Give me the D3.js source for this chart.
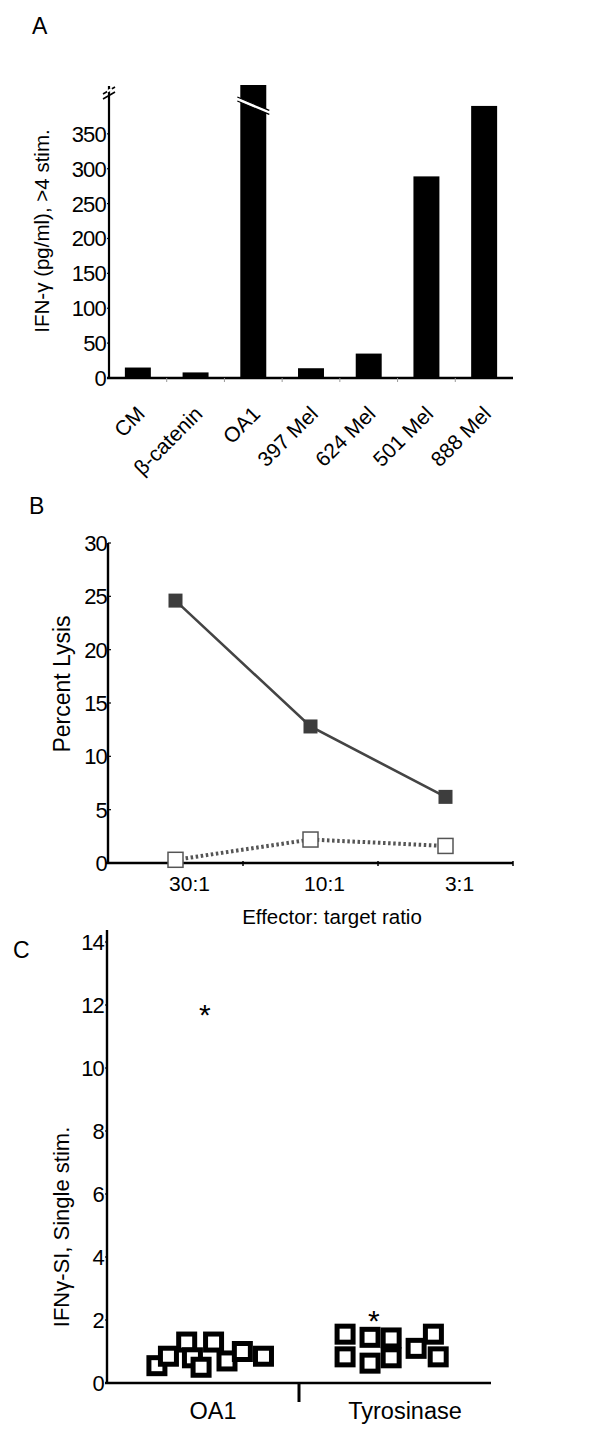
<!DOCTYPE html>
<html>
<head>
<meta charset="utf-8">
<script src="https://cdn.jsdelivr.net/npm/d3@7"></script>
<style>
  html, body { margin: 0; padding: 0; background: #fff; }
  svg { display: block; font-family: "Liberation Sans", Arial, sans-serif; }
</style>
</head>
<body>
<script>
// ---------- Panel A data ----------
const catsA = ["CM", "β-catenin", "OA1", "397 Mel", "624 Mel", "501 Mel", "888 Mel"];
const valsA = [15, 8, 420, 14, 35, 289, 390];   // OA1 is off-scale (axis break)
const ticksA = [0, 50, 100, 150, 200, 250, 300, 350];

// ---------- Panel B data ----------
const ratiosB = ["30:1", "10:1", "3:1"];
const lysisOA1 = [24.6, 12.8, 6.2];
const lysisCtrl = [0.3, 2.2, 1.6];
const ticksB = [0, 5, 10, 15, 20, 25, 30];

// ---------- Panel C data ----------
const groupsC = ["OA1", "Tyrosinase"];
const oa1SI = [0.55, 0.85, 1.3, 0.8, 0.5, 1.3, 0.7, 1.0, 0.85];
const oa1Jit = [-0.48, -0.36, -0.17, -0.11, -0.02, 0.11, 0.25, 0.41, 0.63];
const tyrSI = [1.55, 0.83, 1.45, 0.63, 1.43, 0.8, 1.1, 1.55, 0.83];
const tyrJit = [-0.52, -0.52, -0.26, -0.26, -0.04, -0.04, 0.22, 0.4, 0.45];
const starGroup = ["OA1", "Tyrosinase"];
const starSI = [11.8, 2.1];
const starJit = [0.02, -0.22];
const ticksC = [0, 2, 4, 6, 8, 10, 12, 14];

const W = 609, H = 1432;
const svg = d3.select("body").append("svg").attr("width", W).attr("height", H);

function panelLabel(t, x, y) {
  svg.append("text").attr("x", x).attr("y", y).attr("font-size", 23).text(t);
}
function yTickLabels(g, scale, ticks, xEnd) {
  g.selectAll("text.tl").data(ticks).join("text")
    .attr("class", "tl")
    .attr("x", xEnd).attr("y", d => scale(d))
    .attr("dy", "0.36em").attr("text-anchor", "end")
    .attr("font-size", 22).attr("letter-spacing", -0.8).text(d => d);
  g.selectAll("line.tm").data(ticks).join("line")
    .attr("class", "tm")
    .attr("x1", xEnd + 1).attr("x2", xEnd + 4)
    .attr("y1", d => scale(d)).attr("y2", d => scale(d))
    .attr("stroke", "#000").attr("stroke-width", 1.2);
}

// =================== Panel A ===================
panelLabel("A", 32, 34);
const gA = svg.append("g");
const xA = d3.scaleBand().domain(catsA).range([109, 513]).paddingInner(0.55).paddingOuter(0.275);
const yA = d3.scaleLinear().domain([0, 420]).range([378, 85]).clamp(true);

gA.selectAll("rect.bar").data(catsA).join("rect")
  .attr("class", "bar")
  .attr("x", d => xA(d)).attr("width", xA.bandwidth())
  .attr("y", (d, i) => yA(valsA[i]))
  .attr("height", (d, i) => yA(0) - yA(valsA[i]))
  .attr("fill", "#000");

// break on OA1 bar
{
  const bx = xA("OA1"), bw = xA.bandwidth();
  const y1 = 97, slope = 0.42, gap = 4;
  const xl = bx - 3, xr = bx + bw + 3;
  const yl = y1, yr = y1 + slope * (xr - xl);
  gA.append("path")
    .attr("d", `M${xl},${yl} L${xr},${yr} L${xr},${yr + gap} L${xl},${yl + gap} Z`)
    .attr("fill", "#fff");
  gA.append("line").attr("x1", xl).attr("y1", yl).attr("x2", xr).attr("y2", yr)
    .attr("stroke", "#000").attr("stroke-width", 1.2);
  gA.append("line").attr("x1", xl).attr("y1", yl + gap).attr("x2", xr).attr("y2", yr + gap)
    .attr("stroke", "#000").attr("stroke-width", 1.2);
}

// y axis
gA.append("line").attr("x1", 109).attr("x2", 109).attr("y1", yA(0)).attr("y2", 86)
  .attr("stroke", "#000").attr("stroke-width", 2.2);
[90, 95].forEach(yy => {
  gA.append("line").attr("x1", 103).attr("y1", yy + 4).attr("x2", 115).attr("y2", yy - 3)
    .attr("stroke", "#000").attr("stroke-width", 1.6);
});
gA.append("line").attr("x1", 107).attr("y1", 91.5).attr("x2", 112).attr("y2", 89)
  .attr("stroke", "#fff").attr("stroke-width", 2.2);
yTickLabels(gA, yA, ticksA, 106);
// x axis
gA.append("line").attr("x1", 107).attr("x2", 513).attr("y1", yA(0)).attr("y2", yA(0))
  .attr("stroke", "#000").attr("stroke-width", 2.6);
const stepA = xA.step();
gA.selectAll("line.xt").data(catsA.slice(1)).join("line")
  .attr("class", "xt")
  .attr("x1", d => xA(d) - stepA * 0.275).attr("x2", d => xA(d) - stepA * 0.275)
  .attr("y1", yA(0)).attr("y2", yA(0) + 4)
  .attr("stroke", "#999").attr("stroke-width", 1);
gA.selectAll("text.xl").data(catsA).join("text")
  .attr("class", "xl")
  .attr("transform", d => `translate(${xA(d) + xA.bandwidth() / 2 + 3},${410}) rotate(-45)`)
  .attr("text-anchor", "end").attr("dy", "0.35em")
  .attr("font-size", 21).text(d => d);
gA.append("text")
  .attr("transform", `translate(49,${231}) rotate(-90)`)
  .attr("text-anchor", "middle").attr("font-size", 20.5)
  .text("IFN-γ (pg/ml), >4 stim.");

// =================== Panel B ===================
panelLabel("B", 29, 514);
const gB = svg.append("g");
const xB = d3.scaleBand().domain(ratiosB).range([108, 513]);
const yB = d3.scaleLinear().domain([0, 30]).range([863, 543]);
const cx = d => xB(d) + xB.bandwidth() / 2;

gB.append("line").attr("x1", 108).attr("x2", 108).attr("y1", yB(0)).attr("y2", yB(30))
  .attr("stroke", "#000").attr("stroke-width", 2.4);
gB.append("line").attr("x1", 106).attr("x2", 513).attr("y1", yB(0)).attr("y2", yB(0))
  .attr("stroke", "#000").attr("stroke-width", 2.4);
yTickLabels(gB, yB, ticksB, 107);
gB.selectAll("line.xt").data(ratiosB).join("line")
  .attr("class", "xt")
  .attr("x1", d => xB(d) + xB.bandwidth()).attr("x2", d => xB(d) + xB.bandwidth())
  .attr("y1", yB(0) - 2).attr("y2", yB(0) + 3)
  .attr("stroke", "#000").attr("stroke-width", 1.5);
gB.selectAll("text.xl").data(ratiosB).join("text")
  .attr("class", "xl")
  .attr("x", d => cx(d) + 14).attr("y", yB(0) + 28)
  .attr("text-anchor", "middle").attr("font-size", 21).text(d => d);
gB.append("text").attr("x", 332).attr("y", 924).attr("text-anchor", "middle")
  .attr("font-size", 20.5).text("Effector: target ratio");
gB.append("text")
  .attr("transform", `translate(70,${684}) rotate(-90)`)
  .attr("text-anchor", "middle").attr("font-size", 23).text("Percent Lysis");

const lineB = d3.line().x(d => cx(d[0])).y(d => yB(d[1]));
gB.append("path").datum(ratiosB.map((r, i) => [r, lysisCtrl[i]]))
  .attr("d", lineB).attr("fill", "none").attr("stroke", "#555")
  .attr("stroke-width", 4).attr("stroke-dasharray", "2.5,2.6");
gB.append("path").datum(ratiosB.map((r, i) => [r, lysisOA1[i]]))
  .attr("d", lineB).attr("fill", "none").attr("stroke", "#444").attr("stroke-width", 2.6);
gB.selectAll("rect.f").data(ratiosB).join("rect")
  .attr("class", "f")
  .attr("x", d => cx(d) - 7).attr("y", (d, i) => yB(lysisOA1[i]) - 7)
  .attr("width", 14).attr("height", 14).attr("fill", "#3d3d3d");
gB.selectAll("rect.o").data(ratiosB).join("rect")
  .attr("class", "o")
  .attr("x", d => cx(d) - 7.5).attr("y", (d, i) => yB(lysisCtrl[i]) - 7.5)
  .attr("width", 15).attr("height", 15).attr("fill", "#fff")
  .attr("stroke", "#555").attr("stroke-width", 1.5);

// =================== Panel C ===================
panelLabel("C", 13, 958);
const gC = svg.append("g");
const xC = d3.scaleBand().domain(groupsC).range([107, 491]);
const yC = d3.scaleLinear().domain([0, 14]).range([1383, 942]);
const jit = d3.scaleLinear().domain([-1, 1]).range([-xC.bandwidth() / 2, xC.bandwidth() / 2]);
const cxC = (g, j) => xC(g) + xC.bandwidth() / 2 + jit(j);

gC.append("line").attr("x1", 107).attr("x2", 107).attr("y1", yC(0)).attr("y2", 930)
  .attr("stroke", "#000").attr("stroke-width", 2.4);
gC.append("line").attr("x1", 105).attr("x2", 491).attr("y1", yC(0)).attr("y2", yC(0))
  .attr("stroke", "#000").attr("stroke-width", 2.4);
yTickLabels(gC, yC, ticksC, 104);
gC.append("line").attr("x1", xC("Tyrosinase")).attr("x2", xC("Tyrosinase"))
  .attr("y1", yC(0)).attr("y2", yC(0) + 19).attr("stroke", "#000").attr("stroke-width", 3);
gC.selectAll("text.xl").data(groupsC).join("text")
  .attr("class", "xl")
  .attr("x", d => xC(d) + xC.bandwidth() / 2 + 10).attr("y", 1419)
  .attr("text-anchor", "middle").attr("font-size", 23.5).text(d => d);
gC.append("text")
  .attr("transform", `translate(69,${1227}) rotate(-90)`)
  .attr("text-anchor", "middle").attr("font-size", 22).text("IFNγ-SI, Single stim.");

const ptsC = oa1SI.map((v, i) => ({ g: "OA1", v, j: oa1Jit[i] }))
  .concat(tyrSI.map((v, i) => ({ g: "Tyrosinase", v, j: tyrJit[i] })));
gC.selectAll("rect.pt").data(ptsC).join("rect")
  .attr("class", "pt")
  .attr("x", d => cxC(d.g, d.j) - 8).attr("y", d => yC(d.v) - 8)
  .attr("width", 16).attr("height", 16)
  .attr("fill", "#fff").attr("stroke", "#000").attr("stroke-width", 5);
gC.selectAll("text.star").data(starGroup).join("text")
  .attr("class", "star")
  .attr("x", (d, i) => cxC(d, starJit[i])).attr("y", (d, i) => yC(starSI[i]) + 14)
  .attr("text-anchor", "middle").attr("font-size", 30).text("*");
</script>
</body>
</html>
